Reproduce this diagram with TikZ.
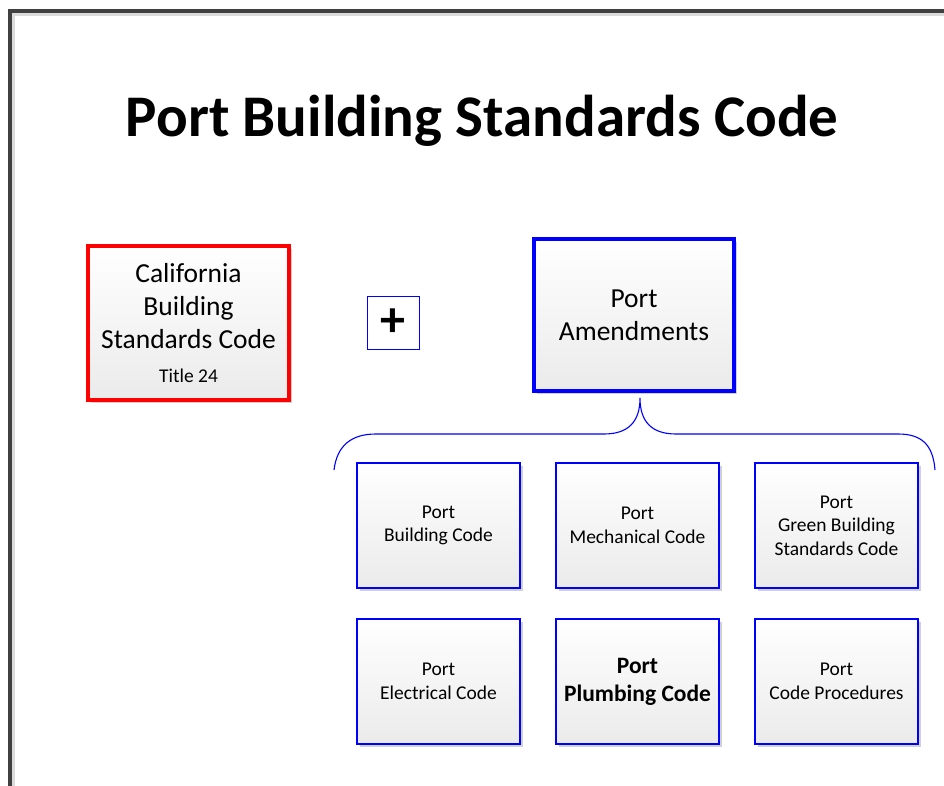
\documentclass[tikz,border=0pt]{standalone}
\usepackage{fontspec}
\setmainfont{Carlito}
\usetikzlibrary{shadows}
\definecolor{pblue}{RGB}{0,0,255}
\definecolor{pred}{RGB}{255,0,0}
\definecolor{framegray}{RGB}{64,64,64}
\begin{document}
\begin{tikzpicture}[x=1pt,y=-1pt,
  shadowed/.style={drop shadow={shadow xshift=3pt,shadow yshift=-3pt,fill=black!18,opacity=1}},
  grad/.style={top color=white,bottom color=black!8},
  bigbox/.style={grad,shadowed,line width=3.3pt,inner sep=2pt,align=center,
    font=\fontsize{27.5}{33}\selectfont},
  smallbox/.style={grad,shadowed,draw=pblue,line width=2.9pt,minimum width=163pt,minimum height=125pt,
    inner sep=2pt,align=center,font=\fontsize{19.5}{23.5}\selectfont},
  bracestyle/.style={draw=pblue,line width=1.1pt}]
\useasboundingbox (0,0) rectangle (944,786);
\fill[white] (0,0) rectangle (944,786);
% page frame
\draw[black!14,line width=2.5pt] (13.5,786) -- (13.5,14.5) -- (944,14.5);
\draw[framegray,line width=3.2pt] (10,786) -- (10,11) -- (944,11);
% title
\node[font=\fontsize{59}{70}\bfseries,anchor=base] (title) at (482,137) {Port Building Standards Code};
% main boxes
\node[bigbox,draw=pred,minimum width=201pt,minimum height=154pt] (cal) at (188.5,323)
  {California\\Building\\Standards Code\\[1pt]{\fontsize{19.5}{24}\selectfont Title 24}};
\node[draw=pblue,line width=1pt,minimum width=52pt,minimum height=53pt,inner sep=0pt,
  font=\fontsize{50}{50}\bfseries] (plus) at (393,322.5) {+};
\node[bigbox,draw=pblue,minimum width=200pt,minimum height=152pt] (amend) at (634,315)
  {Port\\Amendments};
% brace
\coordinate (bl) at (334,470);
\coordinate (br) at (935,470);
\coordinate (peak) at (640,398);
\draw[bracestyle] (bl) .. controls (337,445) and (352,434) .. (376,434) -- (604,434)
  .. controls (628,434) and (640,422) .. (peak)
  .. controls (640,422) and (652,434) .. (676,434) -- (898,434)
  .. controls (922,434) and (933,445) .. (br);
% sub boxes
\node[smallbox] (bldg) at (438.5,525.5) {Port\\Building Code};
\node[smallbox] (mech) at (637.5,525.5) {Port\\Mechanical Code};
\node[smallbox] (green) at (836.5,525.5) {Port\\Green Building\\Standards Code};
\node[smallbox] (elec) at (438.5,681.5) {Port\\Electrical Code};
\node[smallbox,font=\fontsize{23.5}{28}\bfseries] (plumb) at (637.5,681.5) {Port\\Plumbing Code};
\node[smallbox] (proc) at (836.5,681.5) {Port\\Code Procedures};
\end{tikzpicture}
\end{document}
